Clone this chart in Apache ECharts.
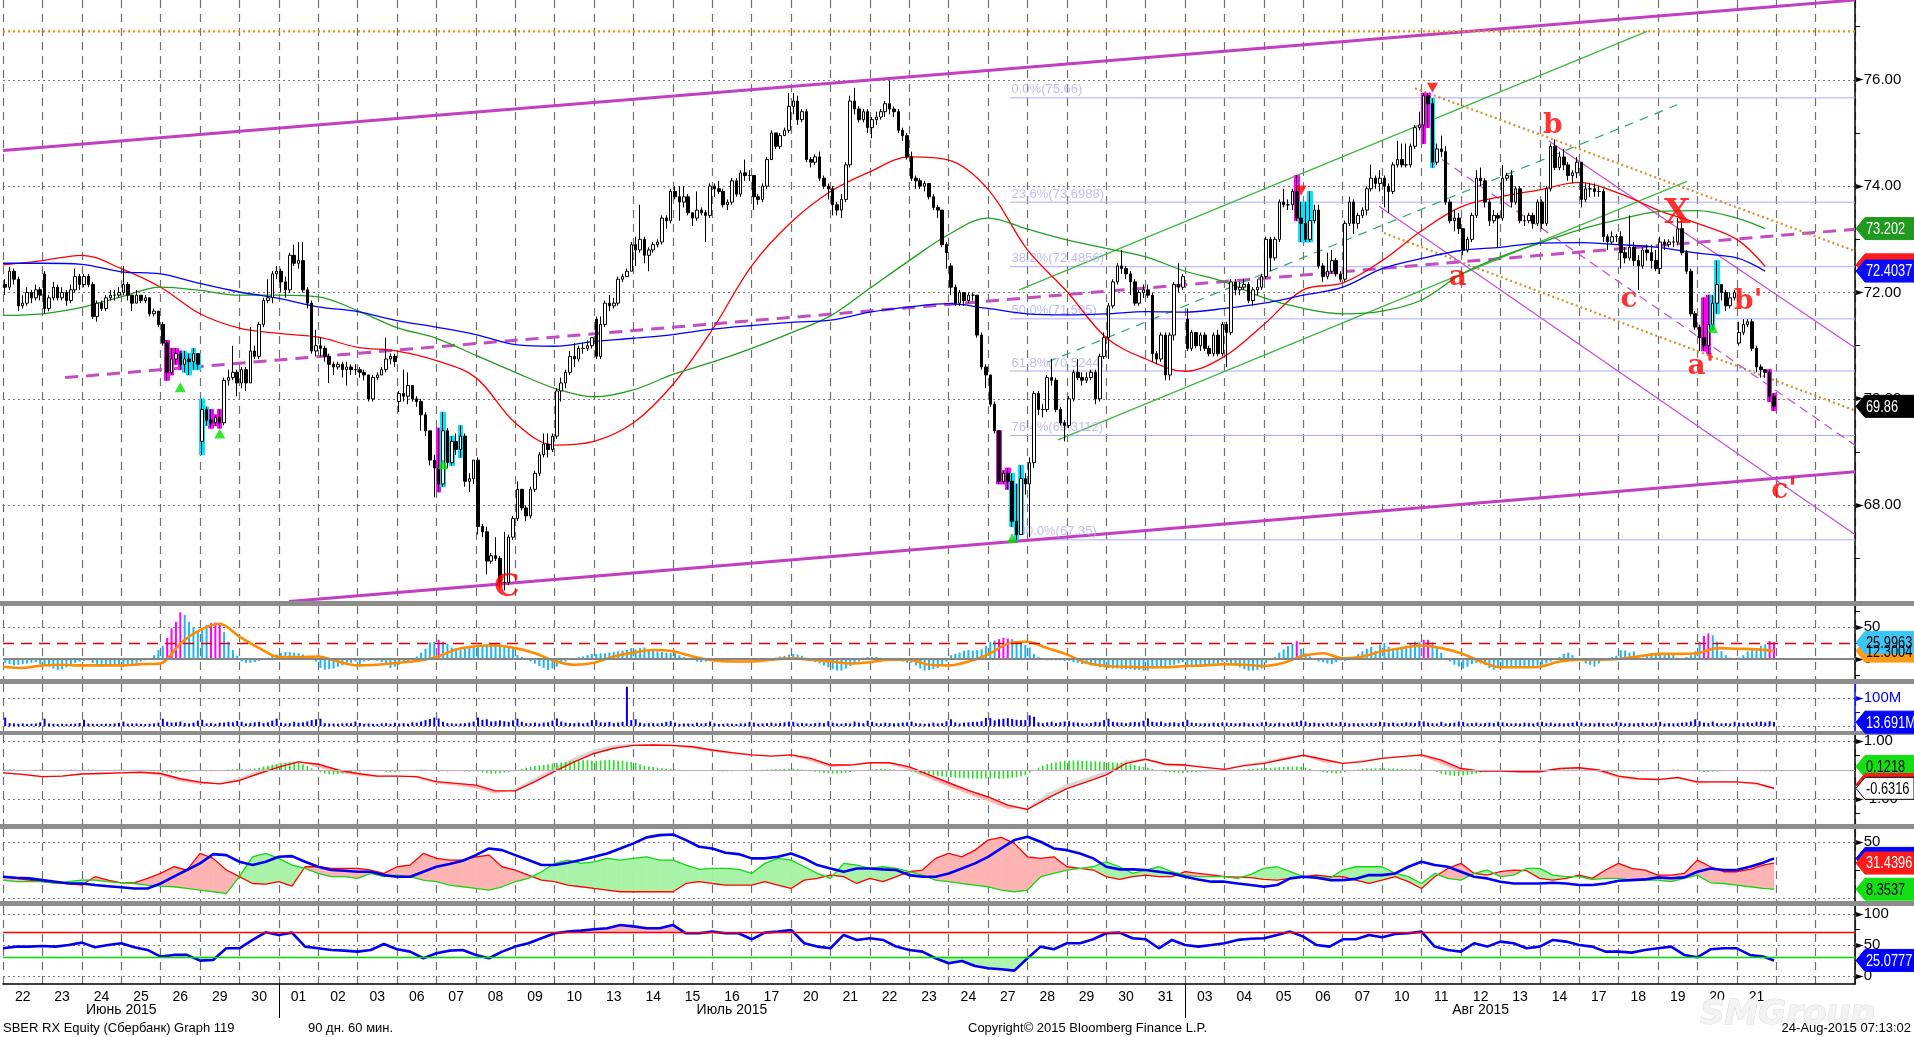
<!DOCTYPE html>
<html>
<head>
<meta charset="utf-8">
<script src="https://cdn.jsdelivr.net/npm/echarts@6/dist/echarts.min.js"></script>
<style>
html, body { margin: 0; padding: 0; background: #fff; }
#chart { width: 1914px; height: 1037px; }
</style>
</head>
<body>
<div id="chart"></div>
<script>
// SBER RX hourly, 22 Jun - 21 Aug 2015, 9 bars a day

const dayLabels = ['22','23','24','25','26','29','30','01','02','03','06','07','08','09','10','13','14','15','16','17','20','21','22','23','24','27','28','29','30','31','03','04','05','06','07','10','11','12','13','14','17','18','19','20','21'];
const monthLabels = [['Июнь 2015', 3], ['Июль 2015', 18.5], ['Авг 2015', 37.5]];
const monthStarts = [7, 30];

const closes = [
  [72.10,72.40,72.25,71.75,71.80,72.00,71.90,72.05,71.95],
  [71.70,71.90,72.10,71.90,72.00,71.85,72.05,72.30,72.15],
  [72.30,72.15,71.55,71.80,71.70,71.90,71.95,71.95,72.00],
  [72.15,71.95,71.80,71.95,71.85,71.90,71.60,71.65,71.40],
  [71.05,70.50,70.75,70.85,70.65,70.75,70.70,70.85,70.65],
  [69.80,69.60,69.55,69.65,69.55,70.35,70.40,70.50,70.30],
  [70.55,70.30,70.90,70.80,71.40,71.85,71.90,72.35,72.40],
  [72.20,72.05,72.70,72.55,72.60,72.05,71.80,70.90,71.00],
  [70.95,70.80,70.65,70.60,70.65,70.55,70.60,70.55,70.55],
  [70.50,70.45,70.00,70.40,70.45,70.55,70.75,70.80,70.70],
  [70.10,70.05,70.25,70.00,69.95,69.70,69.40,68.85,68.70],
  [68.40,69.40,68.80,69.20,69.05,69.30,68.45,68.50,68.85],
  [67.60,67.50,66.95,67.05,67.00,66.55,66.55,67.40,67.75],
  [68.30,67.95,67.80,68.30,68.60,68.95,69.15,69.05,69.30],
  [70.15,70.30,70.50,70.80,70.75,70.95,70.95,71.00,71.15],
  [70.80,71.40,71.80,71.75,71.80,72.25,72.30,72.40,72.90],
  [72.80,73.00,72.70,72.80,72.90,72.95,73.40,73.35,73.90],
  [73.80,73.70,73.80,73.50,73.40,73.55,73.50,73.45,74.00],
  [73.95,73.90,73.65,73.70,74.10,73.85,74.25,74.20,74.20],
  [73.80,73.75,74.00,74.50,75.00,74.75,74.95,75.05,75.50],
  [75.60,75.25,75.40,74.50,74.45,74.55,74.15,74.00,73.95],
  [73.65,73.55,73.75,74.40,75.60,75.45,75.25,75.40,75.10],
  [75.25,75.30,75.40,75.55,75.45,75.40,75.05,74.95,74.55],
  [74.15,74.10,74.00,74.05,73.80,73.60,73.55,72.90,72.75],
  [72.10,71.80,72.00,71.85,71.95,71.95,71.20,70.60,70.45],
  [69.90,69.40,68.45,68.60,68.45,67.70,67.45,68.50,68.40],
  [68.80,70.10,69.80,69.80,70.40,70.35,69.80,69.55,69.50],
  [70.00,70.50,70.40,70.35,70.40,70.50,70.00,70.80,71.15],
  [71.75,72.20,72.50,72.45,72.35,72.20,71.80,72.00,72.05],
  [71.95,70.85,70.75,71.20,70.45,71.20,72.15,72.10,72.30],
  [70.95,71.25,71.00,71.20,70.95,70.85,71.20,70.85,71.40],
  [71.25,72.20,72.05,72.10,72.15,71.85,72.05,72.10,72.30],
  [73.00,72.65,73.00,73.70,73.65,73.65,73.90,73.40,73.30],
  [73.00,73.35,73.55,72.50,72.30,72.40,72.60,72.35,72.25],
  [73.30,73.70,73.30,73.45,73.55,73.95,74.15,74.05,74.15],
  [74.00,73.90,74.40,74.50,74.40,74.40,74.75,75.10,75.15],
  [75.70,75.55,74.45,74.70,74.65,73.70,73.35,73.40,73.20],
  [72.80,73.00,73.45,74.15,74.10,73.70,73.35,73.45,73.40],
  [74.15,74.20,73.70,73.95,73.35,73.35,73.45,73.30,73.70],
  [73.30,73.95,74.75,74.35,74.55,74.40,74.20,74.25,74.45],
  [73.75,73.95,73.95,73.90,73.90,73.05,72.95,73.05,73.05],
  [72.75,72.65,72.85,72.60,72.50,72.80,72.75,72.60,72.45],
  [72.95,72.90,72.95,72.95,73.20,72.75,72.40,71.60,71.35],
  [71.15,71.00,71.40,71.80,72.15,72.00,71.75,71.90,72.00],
  [71.25,71.40,71.45,70.95,70.60,70.55,70.50,70.05,69.86]
].flat();

const highs = [
  [72.25,72.48,72.45,72.30,71.95,72.10,72.05,72.15,72.10],
  [72.40,71.95,72.20,72.15,72.10,72.05,72.15,72.45,72.35],
  [72.35,72.35,72.20,71.85,71.85,71.95,72.05,72.05,72.10],
  [72.50,72.20,71.95,72.05,71.95,71.95,71.90,71.70,71.65],
  [71.45,71.10,70.95,70.95,70.90,70.90,70.85,70.95,70.85],
  [70.00,69.85,69.80,69.70,69.80,70.40,70.55,71.00,70.55],
  [70.60,70.60,71.35,71.00,71.45,71.90,72.25,72.40,72.50],
  [72.45,72.30,72.75,72.90,72.95,72.95,72.10,71.85,71.30],
  [71.15,71.00,70.85,70.70,70.70,70.70,70.70,70.65,70.65],
  [70.60,70.55,70.45,70.45,70.50,70.60,71.15,70.85,70.85],
  [70.15,70.55,70.50,70.25,70.05,70.00,69.75,69.40,68.95],
  [69.45,69.75,69.45,69.30,69.35,69.50,69.35,68.60,68.85],
  [68.90,67.65,67.60,67.10,67.40,67.05,67.50,67.45,67.80],
  [68.45,68.30,68.00,68.35,68.65,69.00,69.35,69.35,69.35],
  [70.20,70.40,70.55,70.90,71.05,71.00,71.05,71.10,71.15],
  [71.55,71.55,71.85,71.95,71.90,72.30,72.35,72.45,72.95],
  [73.05,73.65,73.05,72.85,72.95,73.00,73.45,73.45,73.95],
  [74.00,74.00,74.00,73.85,73.50,73.90,73.60,73.55,74.05],
  [74.05,74.10,73.95,73.75,74.15,74.15,74.30,74.50,74.30],
  [74.20,73.85,74.05,74.55,75.05,75.00,75.00,75.10,75.75],
  [75.75,75.70,75.45,75.45,74.55,74.60,74.65,74.20,74.05],
  [74.00,73.70,73.85,74.45,75.70,75.85,75.50,75.45,75.45],
  [75.30,75.40,75.45,75.60,75.98,75.50,75.45,75.10,75.00],
  [74.65,74.20,74.15,74.10,74.05,73.85,73.65,73.55,72.95],
  [72.55,72.15,72.05,72.00,72.00,72.00,71.95,71.25,70.65],
  [70.45,69.95,69.40,68.65,68.70,68.60,68.40,68.75,68.60],
  [68.90,70.15,70.15,69.90,70.45,70.75,70.40,69.85,69.60],
  [70.05,70.55,70.75,70.50,70.50,70.55,70.55,70.85,71.25],
  [71.80,72.25,72.55,72.80,72.50,72.40,72.25,72.05,72.15],
  [72.15,72.00,70.90,71.25,71.25,71.25,72.20,72.55,72.35],
  [71.70,71.30,71.25,71.25,71.25,71.00,71.25,71.30,71.45],
  [71.45,72.25,72.25,72.20,72.25,72.20,72.10,72.25,72.35],
  [73.05,73.05,73.05,73.75,73.95,73.75,73.95,74.20,73.70],
  [73.70,73.90,73.65,73.65,72.55,72.75,72.80,72.65,72.40],
  [73.35,73.80,73.75,73.50,73.60,74.00,74.40,74.20,74.30],
  [74.20,74.05,74.45,74.85,74.80,74.80,74.80,75.15,75.40],
  [75.75,75.75,75.65,74.80,74.95,74.75,73.75,73.55,73.50],
  [73.20,73.05,73.50,74.30,74.35,74.15,73.75,73.55,73.50],
  [74.40,74.25,74.30,74.00,74.00,73.45,73.50,73.50,73.75],
  [73.75,74.00,74.80,74.88,74.65,74.70,74.45,74.30,74.55],
  [74.45,74.05,74.05,74.05,74.00,73.95,73.10,73.15,73.10],
  [73.15,72.85,73.45,72.95,72.70,72.85,72.90,72.90,72.80],
  [73.05,73.00,73.00,73.05,73.40,73.35,72.80,72.45,71.65],
  [71.40,71.90,71.95,71.95,72.60,72.10,72.05,72.00,72.05],
  [71.45,71.50,71.50,71.50,71.00,70.65,70.55,70.55,70.10]
].flat();

const lows = [
  [71.95,72.05,72.15,71.65,71.70,71.75,71.80,71.85,71.85],
  [71.60,71.65,71.85,71.85,71.85,71.75,71.80,72.00,72.05],
  [72.10,72.10,71.50,71.45,71.65,71.65,71.85,71.85,71.90],
  [71.95,71.85,71.65,71.80,71.80,71.80,71.55,71.55,71.35],
  [71.00,70.35,70.45,70.65,70.55,70.50,70.45,70.55,70.55],
  [68.95,69.50,69.45,69.50,69.45,69.50,70.25,70.35,70.05],
  [70.20,70.15,70.30,70.75,70.75,71.35,71.80,71.80,72.25],
  [72.00,71.90,72.00,72.50,72.45,72.00,71.70,70.85,70.80],
  [70.80,70.70,70.30,70.45,70.55,70.40,70.25,70.45,70.45],
  [70.40,70.35,69.95,69.95,70.35,70.45,70.50,70.65,70.60],
  [69.75,69.95,69.90,69.95,69.85,69.40,69.30,68.75,68.15],
  [68.25,68.35,68.70,68.75,68.95,68.90,68.35,68.25,68.40],
  [67.45,67.40,66.70,66.90,66.95,66.45,66.40,66.50,67.35],
  [67.70,67.90,67.70,67.75,68.25,68.55,68.90,68.90,69.00],
  [69.25,69.95,70.20,70.45,70.60,70.70,70.85,70.90,70.95],
  [70.75,70.75,71.35,71.65,71.70,71.75,72.20,72.30,72.40],
  [72.50,72.75,72.55,72.40,72.75,72.85,72.90,73.20,73.30],
  [73.75,73.35,73.60,73.45,73.25,73.35,73.45,72.95,73.40],
  [73.80,73.85,73.60,73.55,73.65,73.80,73.80,74.10,74.10],
  [73.55,73.65,73.70,73.95,74.50,74.70,74.70,74.95,75.00],
  [75.35,75.15,75.20,74.45,74.35,74.40,74.10,73.95,73.75],
  [73.45,73.45,73.40,73.70,74.35,75.35,75.20,75.20,75.00],
  [74.90,75.15,75.25,75.30,75.35,75.30,75.00,74.85,74.50],
  [74.10,73.95,73.95,73.90,73.75,73.55,73.40,72.85,72.45],
  [71.95,71.75,71.75,71.75,71.80,71.85,71.15,70.55,70.20],
  [69.85,69.35,68.40,68.40,68.30,67.60,67.35,67.45,68.20],
  [67.40,68.70,69.70,69.65,69.75,70.25,69.75,69.50,69.20],
  [69.45,69.95,70.35,70.25,70.30,70.35,69.90,69.95,70.75],
  [70.75,71.70,72.15,72.35,72.25,71.95,71.75,71.75,71.90],
  [71.90,70.70,70.65,70.70,70.35,70.35,71.10,72.00,72.05],
  [70.90,70.90,70.95,70.90,70.90,70.80,70.80,70.80,70.80],
  [70.60,71.20,71.95,71.95,72.05,71.80,71.75,71.95,72.05],
  [72.25,72.40,72.60,72.95,73.60,73.55,73.55,73.35,72.95],
  [72.95,72.95,73.30,72.45,72.20,72.25,72.35,72.30,72.20],
  [72.20,73.25,73.10,73.20,73.40,73.45,73.90,73.95,73.90],
  [73.60,73.50,73.85,74.35,74.35,74.35,74.35,74.70,75.05],
  [74.80,75.10,74.35,74.40,74.55,73.65,73.30,73.15,73.10],
  [72.70,72.75,72.95,73.40,74.00,73.60,73.25,73.30,72.85],
  [73.35,74.10,73.60,73.65,73.30,73.25,73.30,73.20,73.25],
  [73.20,73.25,73.90,74.30,74.30,74.30,74.10,74.05,74.15],
  [73.60,73.70,73.80,73.80,73.80,72.95,72.80,72.90,72.95],
  [72.45,72.55,72.60,72.50,72.05,72.45,72.60,72.45,72.40],
  [72.35,72.80,72.85,72.85,72.90,72.70,72.35,71.55,71.30],
  [70.90,70.90,70.85,71.30,71.60,71.85,71.65,71.70,71.85],
  [71.00,71.20,71.35,70.90,70.50,70.40,70.40,69.95,69.78]
].flat();

// opens follow the previous close, except at these gaps
const gapOpens = {0: 72.15, 9: 72.35, 45: 69.20, 90: 69.95, 135: 71.50, 216: 72.50, 270: 71.50, 396: 71.05};

const magentaBars = [37,38,39,40,47,48,49,99,227,228,229,295,324,325,388,389,403,404];
const cyanBars = [41,42,43,44,45,46,100,102,104,230,231,232,296,297,298,326,390,391];
const upArrows = [[40, 70.22], [49, 69.35], [100, 68.77], [230, 67.38], [390, 71.33]];
const downArrows = [[296, 73.92], [326, 75.85]];

// moving averages, one value per day start plus the last bar
const maRed = [72.52,72.60,72.70,72.45,72.10,71.60,71.33,71.23,71.16,70.97,70.90,70.72,70.40,69.55,69.13,69.20,69.55,70.27,71.30,72.50,73.32,73.90,74.27,74.55,74.49,73.94,72.80,72.02,71.15,70.75,70.52,70.80,71.40,72.05,72.18,72.60,73.16,73.61,73.80,73.93,74.07,73.87,73.55,73.30,73.00,72.49];
const maGreen = [71.57,71.60,71.72,71.92,72.10,72.04,71.95,71.95,71.92,71.66,71.34,71.14,70.82,70.50,70.20,70.04,70.17,70.46,70.69,70.95,71.24,71.56,72.08,72.60,73.09,73.40,73.19,72.99,72.83,72.67,72.40,72.20,71.90,71.70,71.60,71.65,71.86,72.34,72.67,72.93,73.18,73.37,73.52,73.54,73.40,73.20];
const maBlue = [72.55,72.55,72.53,72.39,72.35,72.17,72.01,71.89,71.73,71.64,71.47,71.35,71.21,71.02,70.99,71.08,71.14,71.21,71.31,71.38,71.44,71.48,71.63,71.73,71.79,71.70,71.60,71.58,71.60,71.64,71.63,71.70,71.80,71.95,72.10,72.45,72.64,72.79,72.85,72.93,72.94,72.90,72.85,72.74,72.65,72.40];

const fibLevels = [75.66, 73.6988, 72.4856, 71.505, 70.5244, 69.3112, 67.35];
const fibNames = ['0.0%', '23.6%', '38.2%', '50.0%', '61.8%', '76.4%', '100.0%'];

// [kind, bar from, price from, bar to, price to]
const trendLines = [
  ['channel', 0, 74.67, 423, 77.50],
  ['channel', 65.3, 66.19, 423, 68.63],
  ['purpleDash', 14.2, 70.40, 423, 73.19],
  ['orangeFlat', 0, 76.91, 423, 76.91],
  ['green', 232.1, 72.05, 375.5, 76.91],
  ['green', 241.0, 69.23, 384.6, 74.09],
  ['greenDash', 238.5, 70.69, 382.4, 75.53],
  ['orangeDot', 322.5, 75.84, 423, 72.78],
  ['orangeDot', 315.4, 73.12, 423, 69.78],
  ['purpleThin', 353.1, 74.85, 423, 70.96],
  ['purpleThin', 314.3, 73.62, 423, 67.45],
  ['purpleThinDash', 325.9, 74.66, 423, 69.13]
];

const waveLabels = [['C', 115.1, 66.45], ['a', 332.3, 72.27], ['b', 354.0, 75.13], ['c', 371.4, 71.86], ['X', 382.4, 73.47], ["a'", 387.8, 70.60], ["b'", 398.6, 71.83], ["c'", 406.8, 68.28]];

// panel 2 oscillator, per bar
const oscHist = [
  [-6,-8,-10,-9,-8,-7,-6,-5,-8],[-10,-12,-15,-17,-16,-13,-10,-6,-4],[-3,-2,-6,-10,-12,-10,-8,-9,-11],
  [-12,-10,-8,-6,-4,-2,0,6,14],[20,33,48,58,73,69,58,50,42],[48,53,56,57,56,42,27,14,5],
  [-4,-6,-6,-5,-3,-1,2,5,7],[9,11,11,10,9,7,4,1,-4],[-14,-17,-16,-15,-12,-10,-8,-6,-4],
  [-9,-4,-3,-2,-3,-5,-9,-14,-12],[-9,-6,-4,0,4,10,16,26,27],[30,27,24,18,17,14,17,20,21],
  [20,21,23,25,25,23,21,20,18],[6,3,0,-4,-7,-11,-14,-17,-15],[-12,-8,-4,-1,1,3,4,6,8],
  [8,9,9,10,11,12,13,14,17],[15,17,18,14,13,12,11,10,9],[9,6,3,1,-2,-4,-5,-4,-3],
  [-4,-4,-3,-3,-2,-1,-1,-2,-2],[-2,-3,-2,-1,1,2,4,5,7],[8,7,5,2,-2,-5,-7,-10,-13],
  [-16,-18,-18,-15,-11,-8,-4,2,3],[3,3,2,1,0,-1,-2,-4,-6],[-6,-10,-15,-18,-17,-16,-14,-9,-4],
  [6,8,10,13,14,13,14,15,20],[27,29,31,33,32,31,28,25,22],[18,8,3,0,-2,-2,-2,-2,-3],
  [-3,-5,-6,-8,-8,-10,-11,-13,-13],[-14,-15,-15,-16,-16,-16,-17,-17,-18],[-18,-15,-12,-12,-12,-10,-9,-7,-5],
  [-11,-10,-10,-10,-10,-10,-9,-7,-5],[-5,-7,-10,-13,-16,-18,-18,-17,-15],[-6,0,3,10,15,20,24,28,16],
  [9,4,0,-4,-5,-7,-8,-5,-2],[-3,0,3,8,12,16,19,13,22],[25,19,16,17,19,21,25,27,27],
  [30,30,26,18,10,-1,-4,-9,-12],[-15,-12,-8,-6,-7,-9,-14,-17,-12],[-14,-14,-13,-13,-13,-13,-12,-12,-10],
  [-9,-7,-4,-1,3,8,10,6,1],[-3,-7,-9,-12,-7,-2,1,3,5],[14,13,10,12,6,2,5,9,9],
  [9,7,9,7,2,1,3,6,12],[27,36,40,37,27,12,6,2,0],[2,6,12,14,17,20,23,28,26]
].flat();
// two samples a day
const oscLine = [-12,-14,-10,-9,-10,-10,-10,-8,-7,24,45,55,35,17,3,3,4,-4,-10,-9,-6,-3,3,15,20,21,17,9,-3,-9,-6,4,10,14,12,4,-2,-4,-4,-1,1,-1,-4,-7,-5,-1,-1,-9,-10,-4,7,24,27,17,7,-6,-11,-12,-13,-13,-11,-10,-8,-9,-11,-6,5,9,1,4,12,17,21,17,9,-4,-13,-13,-12,-4,-1,-1,0,4,8,8,9,17,16,15,12.3];
const oscLevel = 25;

// panel 3 volume, millions
const volume = [
  [30,10,9,8,9,7,8,9,13],[26,9,8,7,8,7,8,8,11],[22,9,8,7,7,8,8,9,11],[16,8,9,9,8,7,8,9,12],
  [26,15,12,13,16,11,9,12,19],[22,9,10,8,12,12,15,13,18],[15,9,10,13,15,10,13,19,26],[12,9,10,15,12,13,16,21,24],
  [26,10,9,9,8,9,10,10,16],[11,8,9,8,7,9,10,8,12],[9,10,8,13,12,16,21,25,30],[27,15,10,9,8,9,10,12,16],
  [30,22,24,16,17,20,17,15,20],[26,15,10,10,12,9,12,13,19],[27,16,12,10,10,12,9,12,21],[21,13,12,15,10,12,15,140,21],
  [24,12,9,10,10,9,10,15,17],[12,8,9,9,8,12,9,10,16],[10,7,8,9,8,7,9,9,15],[12,8,9,10,12,9,10,13,16],
  [15,9,10,9,8,10,12,10,17],[12,9,8,10,9,16,12,10,19],[15,10,9,12,10,9,10,12,13],[16,10,9,8,9,12,9,10,17],
  [24,13,9,12,13,15,15,17,29],[28,20,24,26,28,25,22,21,21],[38,33,13,10,13,15,10,13,16],[17,13,12,10,9,10,15,13,21],
  [26,15,13,12,10,13,15,13,19],[27,15,13,16,10,12,13,10,15],[22,12,10,9,10,9,12,10,13],[12,10,9,10,13,9,10,9,13],
  [15,10,9,12,9,10,13,15,19],[16,10,12,10,9,12,13,9,15],[12,9,10,9,10,9,12,10,15],[13,10,12,9,10,13,12,10,17],
  [16,12,10,9,15,9,10,12,16],[15,9,10,12,9,10,12,10,15],[13,10,9,10,9,12,10,9,13],[15,10,12,9,10,9,10,12,16],
  [13,9,10,9,12,10,9,9,15],[12,9,10,9,10,12,9,10,13],[15,9,10,9,10,12,13,16,24],[17,12,10,16,10,9,10,9,15],
  [12,10,13,10,15,16,13,17,14]
].flat();

// panel 4: red line and its fast partner (two samples a day), histogram in hundredths per bar
const cLine = [-0.10,-0.15,-0.23,-0.21,-0.14,-0.12,-0.10,-0.08,-0.12,-0.30,-0.42,-0.48,-0.36,-0.12,0.10,0.28,0.20,0.00,-0.12,-0.21,-0.21,-0.23,-0.40,-0.46,-0.52,-0.72,-0.72,-0.40,-0.05,0.28,0.57,0.75,0.85,0.86,0.85,0.80,0.69,0.60,0.52,0.48,0.52,0.40,0.17,0.17,0.25,0.25,0.11,-0.17,-0.44,-0.70,-0.93,-1.21,-1.36,-0.98,-0.64,-0.41,-0.17,0.23,0.37,0.20,0.17,0.09,0.02,0.15,0.23,0.37,0.51,0.37,0.23,0.29,0.40,0.46,0.52,0.34,0.05,-0.04,-0.04,-0.06,-0.06,0.05,0.08,0.00,-0.21,-0.30,-0.33,-0.26,-0.41,-0.41,-0.41,-0.46,-0.63];
const cFast = [-0.08,-0.17,-0.25,-0.20,-0.12,-0.10,-0.08,-0.08,-0.18,-0.38,-0.48,-0.46,-0.28,-0.02,0.22,0.30,0.10,-0.08,-0.18,-0.24,-0.20,-0.26,-0.46,-0.52,-0.62,-0.80,-0.65,-0.28,0.08,0.42,0.70,0.85,0.90,0.86,0.82,0.76,0.64,0.56,0.50,0.50,0.50,0.32,0.10,0.18,0.27,0.22,0.02,-0.28,-0.56,-0.82,-1.06,-1.33,-1.30,-0.82,-0.50,-0.28,-0.04,0.32,0.38,0.16,0.14,0.08,0.04,0.19,0.30,0.44,0.50,0.28,0.22,0.33,0.43,0.47,0.48,0.22,-0.06,-0.06,-0.05,-0.06,-0.05,0.06,0.06,-0.05,-0.27,-0.33,-0.32,-0.26,-0.46,-0.42,-0.43,-0.50,-0.66];
const cHist = [
  [2,3,2,-1,-2,-1,0,1,2],[1,-2,-3,-2,0,1,2,1,0],[1,2,1,-3,-4,-2,0,1,1],[1,0,-2,-1,0,-1,-3,-4,-5],
  [-7,-9,-10,-8,-7,-6,-5,-4,-3],[-4,-5,-4,-3,-2,0,2,3,4],[3,2,3,5,8,12,15,18,20],[22,24,26,28,25,20,14,6,-2],
  [-8,-12,-15,-16,-14,-12,-10,-8,-6],[-5,-4,-3,-2,-3,-4,-6,-8,-7],[-5,-3,-2,0,1,2,2,0,-3],[-6,-4,-5,-4,-3,-3,-5,-6,-5],
  [-6,-8,-10,-12,-13,-11,-9,-7,-4],[0,4,8,11,14,16,18,20,22],[24,26,28,30,32,33,34,34,33],[32,33,34,35,34,33,31,29,28],
  [25,20,15,12,10,8,6,5,4],[2,1,0,-1,-2,-3,-3,-2,-2],[-3,-4,-5,-5,-4,-3,-2,-2,-1],[-1,0,1,2,2,3,3,4,4],
  [4,3,2,0,-3,-6,-8,-10,-11],[-12,-12,-11,-9,-7,-5,-3,-1,1],[2,3,4,4,3,2,0,-2,-4],[-6,-9,-12,-14,-16,-18,-20,-22,-24],
  [-25,-26,-27,-28,-29,-30,-30,-30,-29],[-28,-29,-30,-30,-29,-27,-25,-22,-18],[-10,0,8,14,20,24,27,29,31],[32,33,33,32,31,30,30,29,28],
  [27,26,25,24,22,20,17,14,11],[8,4,0,-3,-6,-8,-9,-10,-10],[-9,-8,-7,-6,-5,-4,-4,-3,-3],[-2,-1,0,1,2,3,4,5,6],
  [7,8,9,10,11,12,12,12,11],[8,4,0,-4,-8,-10,-11,-12,-10],[-7,-4,-1,2,4,5,5,6,6],[6,5,5,4,4,3,3,3,2],
  [1,0,-3,-7,-12,-16,-19,-20,-20],[-19,-17,-15,-12,-9,-7,-5,-4,-3],[-3,-2,-2,-1,-1,0,0,0,0],[0,1,1,1,2,2,1,1,0],
  [-1,-2,-3,-4,-5,-6,-6,-6,-5],[-5,-5,-5,-6,-6,-5,-4,-3,-2],[-1,0,1,2,2,1,0,-2,-4],[-6,-7,-7,-6,-5,-4,-3,-2,-2],
  [-2,-2,-3,-3,-4,-4,-5,-5,-5]
].flat();

// panel 5 DMI, three samples a day
const diMinus = [19.4,17.9,16.4,15,14,13.4,12,19.4,16.4,14,14,17.9,22.3,28.2,25.3,40,35.6,25.3,19.4,13.4,12.9,15,11.1,28.2,28.2,26.7,26.7,26.7,25.3,22.3,28.2,29.7,40,35.6,34.1,34.1,37,38.5,28.2,25.3,20.8,16.4,15,12,10.5,9,7.6,6.1,
  6.1,6.1,6.1,6.1,13.4,15,13.4,12,12,12,15,12,9,16.4,17.9,20.8,19.4,13.4,17.9,15,19.4,23.8,25.3,35.6,40,37,42.9,51.8,54.2,48.9,37,35.6,37,28.2,26.7,25.3,19.4,17,19.4,20.8,19.4,19.4,23.8,22.3,21,19.4,19,18.5,
  17,16.4,17.9,19.4,20.8,19.4,19.4,16.4,13.4,16.4,19.4,15,9,19.4,26.7,31.2,22.3,20.8,23.8,25.3,24.7,17.9,16.4,17.9,20.8,17.9,25.3,31.2,26.7,25.3,20.8,20.8,22.3,34.1,28.2,23.8,23.8,25.9,29.7,31.44];
const diPlus = [16.4,15,15,15,13.4,15,16.4,16.4,15,14,13.4,12,11.1,10.5,9,7.6,6.1,4.6,19.4,37,40,35.6,29.7,26.7,22.3,19.4,19.4,17.9,22.3,19.4,20.8,19.4,16.4,15,12,10.5,9,7.6,10.5,15,17.9,23.8,31.2,34.1,31.2,32.6,35.6,34.1,
  35.6,37,34.1,34.1,29.7,25.9,26.7,26.7,25.9,22.3,31.2,35.6,34.1,28.2,22.3,17.9,31.2,29.7,26.7,28.2,26.7,23.8,20.8,16.4,15,13.4,12,10.5,7.6,6.1,7.6,19.4,22.3,25.3,26.7,28.2,32.6,28.2,22.3,25.3,28.2,23.8,20.8,19.4,19.4,19.4,17.9,21.5,
  26.7,28.2,23.8,19.4,19.4,17.9,25.3,28.2,28.2,28.2,22.3,19.4,13.4,22.3,17.9,16.4,22.3,25.3,19.4,20.8,26.7,26.7,20.8,19.4,19.4,17,17.9,17.9,16.4,16.4,16.4,15,17.9,20.8,14,13.4,12,10.5,9,8.35];
const adx = [19.4,18.5,17.9,16.4,15,13.4,13.4,12,11,10,9,9,13.4,19.4,25.3,31.2,39.4,38.5,32.6,29.7,32.6,37,37.6,32.6,28.2,25.3,24.7,23.8,23.8,20.8,19.4,19.4,23.8,28.2,30.6,33.5,38.5,44.4,42.9,38.5,34.1,29.7,29.7,31.8,34.1,37,40,44.4,
  48.9,54.2,56.2,56.8,51.8,45.9,44.4,40.6,39.4,35.6,35.6,37,40,35.6,29.7,26.7,23.8,26.7,26.7,25.9,25.3,20.8,19.4,19.4,22.3,26.7,31.2,37,44.4,51.8,54.8,50.3,44.4,42.9,40,35.6,28.2,25.9,25.9,25.3,23.8,22.3,19.4,17,15,15,13.4,12,
  10.5,12,17.9,19.4,18.5,16.4,16.4,17.5,20.8,20.8,22.3,28.2,32.6,29.7,28.2,23.8,19.4,17.9,15,13.4,13.4,13.4,14,13.4,12,12,13.4,15.8,16.4,17,18.8,18,18.8,23.8,26.7,25.3,25.3,28.2,31.8,35.6];

// panel 6 RSI, three samples a day
const rsi = [44.7,47.4,47.4,48.5,47.4,50,53.8,46.3,50,52.8,46.3,42,31.3,34,34,24.8,25.9,44.7,44.7,58.2,70.5,66.2,70,47.4,44.7,42,40.9,39.3,42,51.7,43.1,39.3,28.6,36.6,40.9,42,34,28.6,39.3,47.4,52.8,60.9,68.9,71.6,73.2,75.3,77,82.3,
  80,77,77,82.3,68.9,68.9,71.6,68.9,68.9,59.2,70,71.6,74.3,52.8,47.4,44.7,66.2,58.2,60.9,58.2,47.4,42,39.3,28.6,20.5,24.3,16.2,12.5,10.8,8.7,28.6,47.4,43.1,52.8,52.8,59.2,68.9,70,60.9,59.2,44.7,58.2,50,47.4,50,52.8,58.2,60,
  60.9,66.2,71.6,63.5,50,47.4,59.2,59.2,66.2,62.5,67.8,68.9,71.6,47.4,42,39.3,52.8,47.4,55.5,52.8,44.7,47.4,58.2,55.5,50,47.4,39.3,39.3,37.7,42,44.7,47.4,34,30.2,43.1,44.7,44.7,34,31.3,25.08];
const rsiUpper = 70;
const rsiLower = 30;

const lastTags = [
  [0, 73.202, '73.202', '#1f9a1f', '#ffffff'],
  [0, 72.52, '', '#ff1a1a', '#ffffff'],
  [0, 72.4037, '72.4037', '#0a0aff', '#ffffff'],
  [0, 69.86, '69.86', '#000000', '#ffffff'],
  [1, 12.3004, '12.3004', '#ff9a1a', '#000000'],
  [1, 25.9963, '25.9963', '#3cc6f6', '#000000'],
  [2, 13.691, '13.691M', '#0000ff', '#ffffff'],
  [3, 0.1218, '0.1218', '#12e012', '#000000'],
  [3, -0.50, '', '#ff1a1a', '#000000'],
  [3, -0.6316, '-0.6316', '#ffffff', '#000000'],
  [4, 35.6, '', '#0000ff', '#ffffff'],
  [4, 31.4396, '31.4396', '#ff1a1a', '#ffffff'],
  [4, 8.3537, '8.3537', '#12e012', '#000000'],
  [5, 25.0777, '25.0777', '#0000ff', '#ffffff']
];

// ---------- layout and styles ----------
const FONT = "'Liberation Sans', Arial, sans-serif";
const FONT_CSS = '"Liberation Sans", Arial, sans-serif';
const LAST_X = 423;           // 47 days * 9 bars
const FIB_START = 230;

const lineKinds = {
  channel:        {color: '#c23ec2', width: 3, type: 'solid'},
  purpleDash:     {color: '#c24cc2', width: 3, type: [13, 8]},
  orangeFlat:     {color: '#f39000', width: 2.2, type: [2, 3]},
  green:          {color: '#3cb83c', width: 1.2, type: 'solid'},
  greenDash:      {color: '#2ea676', width: 1.2, type: [9, 7]},
  orangeDot:      {color: '#cf922c', width: 2.2, type: [2, 3]},
  purpleThin:     {color: '#c04ed0', width: 1.2, type: 'solid'},
  purpleThinDash: {color: '#c04ed0', width: 1.2, type: [9, 6]}
};

const gridBoxes = [
  {top: 0, height: 601},
  {top: 606, height: 73},
  {top: 684, height: 47},
  {top: 735, height: 89},
  {top: 829, height: 72},
  {top: 906, height: 78}
];
const yRanges = [[66.2, 77.5, 5], [-31.25, 82.8, 2], [-17.9, 150, 2], [-1.862, 1.207, 3], [-2.1, 61.6, 1], [-12.9, 112.9, 3]];

const isZero = v => Math.abs(v) < 1e-9;
const labelFormats = [
  v => '{a|►}' + v.toFixed(2),
  v => '{a|►}' + Math.round(v),
  v => Math.round(v) === 100 ? '{b|►}100M' : '',
  v => isZero(v) ? '' : '{a|►}' + v.toFixed(2),
  v => Math.round(v) === 50 ? '{a|►}50' : '',
  v => '{a|►}' + Math.round(v)
];

const grids = gridBoxes.map(g => Object.assign({left: 3, right: 59, containLabel: false}, g));

const xAxes = grids.map((g, i) => ({
  type: 'value', gridIndex: i, min: 0, max: LAST_X, interval: 9,
  axisLabel: {show: false}, axisTick: {show: false},
  axisLine: {show: i === 5, onZero: false, lineStyle: {color: '#000', width: 1.5}},
  splitLine: {show: true, lineStyle: {color: '#707070', type: [8, 6], width: 1.2}}
}));
xAxes.push({
  type: 'category', gridIndex: 5, position: 'bottom', boundaryGap: true,
  data: dayLabels.concat(['', '']),
  axisLine: {show: false}, axisTick: {show: false}, splitLine: {show: false},
  axisLabel: {interval: 0, color: '#000', fontSize: 14, fontFamily: FONT, margin: 6}
});

const yAxes = yRanges.map((r, i) => ({
  type: 'value', gridIndex: i, position: 'right', min: r[0], max: r[1], splitNumber: r[2],
  axisLine: {show: true, onZero: false, lineStyle: {color: i === 2 ? '#0000ff' : '#000', width: 1.5}},
  axisTick: {show: false},
  minorTick: {show: true, splitNumber: 2, length: 5, lineStyle: {color: i === 2 ? '#0000ff' : '#000'}},
  splitLine: {show: true, showMinLine: false, showMaxLine: false, lineStyle: {color: '#7a7a7a', type: [2, 3], width: 1.1}},
  axisLabel: {
    show: true, margin: 1, fontFamily: FONT, fontSize: 15, color: i === 2 ? '#0000ff' : '#000',
    showMinLabel: false, showMaxLabel: false, formatter: labelFormats[i],
    rich: {a: {fontSize: 10, color: '#000', fontFamily: 'DejaVu Sans'}, b: {fontSize: 10, color: '#0000ff', fontFamily: 'DejaVu Sans'}}
  }
}));

const N = closes.length;
const barX = i => i + 0.5;
const halfDayX = k => Math.min(4.5 * k, N - 0.5);
const thirdDayX = k => Math.min(3 * k, N - 0.5);
const dayX = k => Math.min(9 * k, N - 2.5);
const opens = closes.map((c, i) => gapOpens[i] !== undefined ? gapOpens[i] : closes[i - 1]);
const magentaSet = new Set(magentaBars);

function line(grid, data, color, width, extra) {
  return Object.assign({
    type: 'line', xAxisIndex: grid, yAxisIndex: grid, data: data, symbol: 'none', showSymbol: false,
    silent: true, z: 3, lineStyle: {color: color, width: width}
  }, extra || {});
}

// filled ribbon between two traces, coloured by which one is on top
function ribbon(grid, xs, a, b, colPos, colNeg) {
  const A = j => Array.isArray(a) ? a[j] : a;
  const B = j => Array.isArray(b) ? b[j] : b;
  return {
    type: 'custom', xAxisIndex: grid, yAxisIndex: grid, silent: true, z: 1, clip: true,
    data: xs.slice(0, -1).map((x, j) => [x, A(j), B(j)]),
    encode: {x: 0, y: [1, 2]},
    renderItem: (params, api) => {
      const j = params.dataIndex;
      const x0 = xs[j], x1 = xs[j + 1];
      const d0 = A(j) - B(j), d1 = A(j + 1) - B(j + 1);
      const kids = [];
      const poly = (pts, col) => {
        if (!col) return;
        kids.push({type: 'polygon', shape: {points: pts.map(p => api.coord(p))}, style: {fill: col, stroke: col, lineWidth: 0.6}});
      };
      if (d0 * d1 >= 0) {
        if (d0 + d1 !== 0) poly([[x0, A(j)], [x1, A(j + 1)], [x1, B(j + 1)], [x0, B(j)]], d0 + d1 > 0 ? colPos : colNeg);
      } else {
        const t = d0 / (d0 - d1);
        const xm = x0 + t * (x1 - x0), ym = A(j) + t * (A(j + 1) - A(j));
        poly([[x0, A(j)], [xm, ym], [x0, B(j)]], d0 > 0 ? colPos : colNeg);
        poly([[xm, ym], [x1, A(j + 1)], [x1, B(j + 1)]], d1 > 0 ? colPos : colNeg);
      }
      return {type: 'group', children: kids};
    }
  };
}

const series = [];

// ---- main panel ----
trendLines.forEach(([kind, x0, y0, x1, y1]) => {
  const k = lineKinds[kind];
  series.push(line(0, [[x0, y0], [x1, y1]], k.color, k.width, {z: 2, lineStyle: {color: k.color, width: k.width, type: k.type}}));
});
fibLevels.forEach(lv => series.push(line(0, [[FIB_START, lv], [LAST_X, lv]], '#aaaaff', 1, {z: 1})));
series.push({
  type: 'scatter', xAxisIndex: 0, yAxisIndex: 0, silent: true, z: 2, symbolSize: 1,
  itemStyle: {color: 'rgba(0,0,0,0)'},
  data: fibLevels.map((lv, j) => ({value: [FIB_START, lv], name: fibNames[j] + '(' + lv + ')'})),
  label: {show: true, position: 'right', distance: 1, offset: [0, -8], formatter: '{b}', color: '#acaef2', fontSize: 13, fontFamily: FONT}
});

series.push(line(0, maRed.map((y, k) => [dayX(k), y]), '#ff0000', 1.3, {smooth: 0.35}));
series.push(line(0, maGreen.map((y, k) => [dayX(k), y]), '#1f9f1f', 1.3, {smooth: 0.35}));
series.push(line(0, maBlue.map((y, k) => [dayX(k), y]), '#0000ff', 1.3, {smooth: 0.35}));

[[magentaBars, '#ff00ff'], [cyanBars, '#00e4ff']].forEach(([set, col]) => {
  series.push({
    type: 'candlestick', xAxisIndex: 0, yAxisIndex: 0, silent: true, z: 4, barWidth: 5,
    data: set.map(i => [barX(i), lows[i], highs[i], lows[i], highs[i]]),
    itemStyle: {color: col, color0: col, borderColor: col, borderColor0: col, borderWidth: 1}
  });
});
series.push({
  type: 'candlestick', xAxisIndex: 0, yAxisIndex: 0, silent: true, z: 5, barWidth: 3,
  data: closes.map((c, i) => [barX(i), opens[i], c, lows[i], highs[i]]),
  itemStyle: {color: '#ffffff', color0: '#000000', borderColor: '#000000', borderColor0: '#000000', borderWidth: 1}
});

series.push({
  type: 'scatter', xAxisIndex: 0, yAxisIndex: 0, silent: true, z: 6, symbol: 'triangle', symbolSize: [11, 10],
  itemStyle: {color: '#00e000'}, data: upArrows.map(([b, p]) => [barX(b), p])
});
series.push({
  type: 'scatter', xAxisIndex: 0, yAxisIndex: 0, silent: true, z: 6, symbol: 'triangle', symbolRotate: 180, symbolSize: [11, 10],
  itemStyle: {color: '#ff0000'}, data: downArrows.map(([b, p]) => [barX(b), p])
});
series.push({
  type: 'scatter', xAxisIndex: 0, yAxisIndex: 0, silent: true, z: 7, symbolSize: 1,
  itemStyle: {color: 'rgba(0,0,0,0)'},
  data: waveLabels.map(([t, x, p]) => ({
    value: [x, p], name: t,
    label: {fontSize: t === 'X' ? 34 : (t === 'C' ? 32 : 28)}
  })),
  label: {show: true, position: 'inside', formatter: '{b}', color: '#ff0000', fontWeight: 'bold', fontSize: 28, fontFamily: "'DejaVu Serif', serif"}
});

// ---- panel 2: oscillator ----
series.push({
  type: 'bar', xAxisIndex: 1, yAxisIndex: 1, silent: true, z: 2, barWidth: 2,
  data: oscHist.map((h, i) => ({value: [barX(i), h], itemStyle: {color: magentaSet.has(i) ? '#ff00ff' : '#1eb6f2'}})),
  markLine: {
    silent: true, symbol: 'none', label: {show: false}, animation: false,
    data: [
      {yAxis: 0, lineStyle: {color: '#858585', type: 'solid', width: 2}},
      {yAxis: oscLevel, lineStyle: {color: '#e00000', type: [11, 7], width: 1.4}}
    ]
  }
});
series.push(line(1, oscLine.map((y, k) => [halfDayX(k), y]), '#ff8c00', 2.6, {smooth: 0.3, z: 4}));

// ---- panel 3: volume ----
series.push({
  type: 'bar', xAxisIndex: 2, yAxisIndex: 2, silent: true, barWidth: 2,
  itemStyle: {color: '#0000e0'},
  data: volume.map((v, i) => [barX(i), v])
});

// ---- panel 4 ----
const cxs = cLine.map((_, k) => halfDayX(k));
series.push(ribbon(3, cxs, cLine, cFast, '#ffb2b2', '#d6d6d6'));
series.push({
  type: 'bar', xAxisIndex: 3, yAxisIndex: 3, silent: true, z: 2, barWidth: 1.6,
  itemStyle: {color: '#22e022'},
  data: cHist.map((h, i) => [barX(i), h / 100]),
  markLine: {silent: true, symbol: 'none', label: {show: false}, animation: false,
    data: [{yAxis: 0, lineStyle: {color: '#c6a6c6', type: 'solid', width: 1.2}}]}
});
series.push(line(3, cLine.map((y, k) => [cxs[k], y]), '#ff0000', 1.4, {z: 4}));

// ---- panel 5: DMI ----
const dxs = diMinus.map((_, k) => thirdDayX(k));
series.push(ribbon(4, dxs, diMinus, diPlus, '#ffb4b4', '#a9f3a9'));
series.push(line(4, diMinus.map((y, k) => [dxs[k], y]), '#ff0000', 1.3, {z: 3}));
series.push(line(4, diPlus.map((y, k) => [dxs[k], y]), '#14d814', 1.3, {z: 3}));
series.push(line(4, adx.map((y, k) => [dxs[k], y]), '#0000f0', 2.6, {z: 4}));

// ---- panel 6: RSI ----
const rxs = rsi.map((_, k) => thirdDayX(k));
series.push(ribbon(5, rxs, rsi, rsiUpper, '#ffb6b6', null));
series.push(ribbon(5, rxs, rsiLower, rsi, '#b0f2b0', null));
series.push(line(5, rsi.map((y, k) => [rxs[k], y]), '#0000ee', 2.6, {
  z: 4,
  markLine: {silent: true, symbol: 'none', label: {show: false}, animation: false,
    data: [
      {yAxis: rsiUpper, lineStyle: {color: '#ff0000', type: 'solid', width: 1.4}},
      {yAxis: rsiLower, lineStyle: {color: '#00d800', type: 'solid', width: 1.4}}
    ]}
}));

const option = {
  animation: false,
  backgroundColor: '#ffffff',
  grid: grids,
  xAxis: xAxes,
  yAxis: yAxes,
  series: series
};

const chart = echarts.init(document.getElementById('chart'), null, {renderer: 'canvas'});
chart.setOption(option);

// ---------- decorations placed through the axes ----------
const xPix = v => chart.convertToPixel({xAxisIndex: 0}, v);
const yPix = (g, v) => chart.convertToPixel({yAxisIndex: g}, v);
const axisX = xPix(LAST_X);
const gfx = [];

for (let i = 0; i < gridBoxes.length - 1; i++) {
  const y0 = gridBoxes[i].top + gridBoxes[i].height;
  const h = gridBoxes[i + 1].top - y0;
  gfx.push({type: 'rect', z: 50, silent: true, shape: {x: 0, y: y0, width: 1914, height: h}, style: {fill: '#8d8d8d'}});
}

const labelTop = gridBoxes[5].top + gridBoxes[5].height;
monthStarts.forEach(d => {
  const x = Math.round(xPix(d * 9)) + 0.5;
  gfx.push({type: 'line', z: 50, silent: true, shape: {x1: x, y1: labelTop, x2: x, y2: labelTop + 34}, style: {stroke: '#000', lineWidth: 1}});
});
monthLabels.forEach(([t, d]) => {
  gfx.push({type: 'text', z: 50, silent: true, x: xPix(d * 9), y: labelTop + 26,
    style: {text: t, fill: '#000', font: '14px ' + FONT_CSS, align: 'center', verticalAlign: 'middle', textAlign: 'center', textVerticalAlign: 'middle'}});
});

gfx.push({type: 'text', z: 40, silent: true, x: 1700, y: 1015,
  style: {text: 'SMGroup', fill: '#f3f3f3', stroke: '#dadada', lineWidth: 1, font: 'italic bold 34px "DejaVu Sans", sans-serif', align: 'left', verticalAlign: 'middle', textAlign: 'left', textVerticalAlign: 'middle'}});

[['SBER RX Equity (Сбербанк) Graph 119', 3, 'left'], ['90 дн. 60 мин.', 308, 'left'], ['Copyright© 2015 Bloomberg Finance L.P.', 968, 'left'], ['24-Aug-2015 07:13:02', 1911, 'right']].forEach(([t, x, al]) => {
  gfx.push({type: 'text', z: 50, silent: true, x: x, y: 1028,
    style: {text: t, fill: '#000', font: '13px ' + FONT_CSS, align: al, verticalAlign: 'middle', textAlign: al, textVerticalAlign: 'middle'}});
});

lastTags.forEach(([g, v, t, bg, fg]) => {
  const y = yPix(g, v);
  const x0 = axisX + 1, x1 = 1914, hh = 11;
  gfx.push({type: 'polygon', z: 60, silent: true,
    shape: {points: [[x0, y], [x0 + 9, y - hh], [x1, y - hh], [x1, y + hh], [x0 + 9, y + hh]]},
    style: {fill: bg, stroke: bg === '#ffffff' ? '#000' : bg, lineWidth: 1}});
  if (t) {
    gfx.push({type: 'text', z: 61, silent: true, x: x0 + 10, y: y + 1, scaleX: 0.8,
      style: {text: t, fill: fg, font: '16px ' + FONT_CSS, align: 'left', verticalAlign: 'middle', textAlign: 'left', textVerticalAlign: 'middle'}});
  }
});

chart.setOption({graphic: {elements: gfx}});
</script>
</body>
</html>
